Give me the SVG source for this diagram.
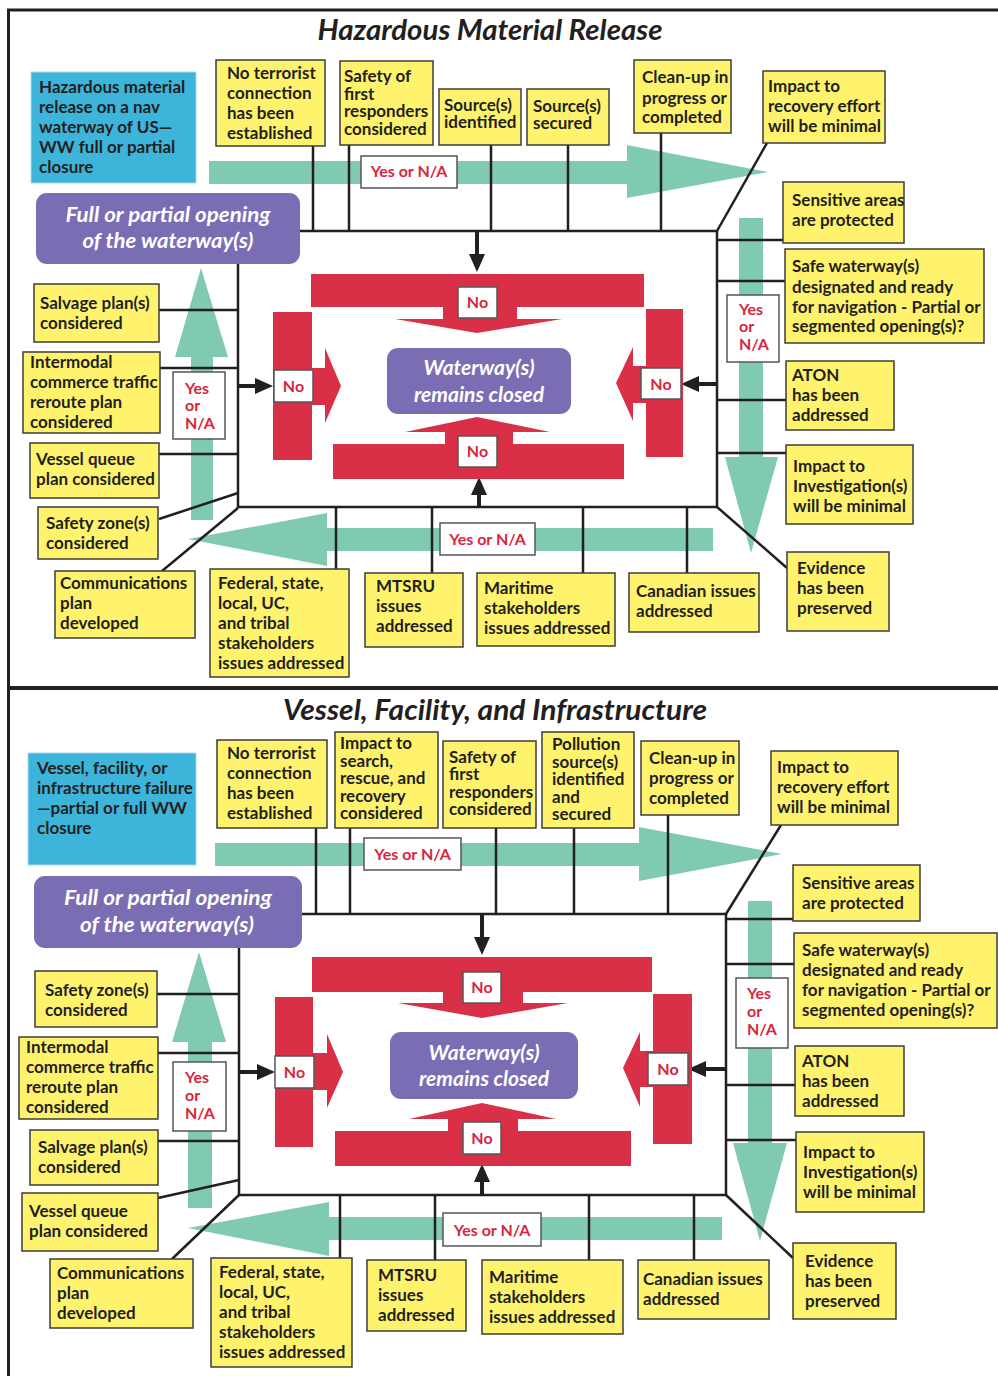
<svg xmlns="http://www.w3.org/2000/svg" width="998" height="1376" viewBox="0 0 998 1376">
<defs>
<style>
.bg{fill:#fff}
.frame{stroke:#231f20;stroke-width:3;fill:none}
.y{fill:#fff36e;stroke:#3d3d3d;stroke-width:1.5}
.bl{fill:#3db4d9;stroke:#a9dcef;stroke-width:1}
.pu{fill:#7b6db3}
.g{fill:#80cbb0}
.r{fill:#d93047}
.wb{fill:#fff;stroke:#555;stroke-width:1.5}
.ln{stroke:#231f20;stroke-width:2.5;fill:none}
.ar{stroke:#231f20;stroke-width:4;fill:none}
.t{font-family:Lato,"Liberation Sans",sans-serif;font-weight:700;font-size:17px;fill:#231f20}
.rt{font-family:Lato,"Liberation Sans",sans-serif;font-weight:700;font-size:16px;fill:#d7263d}
.pt{font-family:Lato,"Liberation Sans",sans-serif;font-weight:700;font-style:italic;font-size:21px;fill:#fff;text-anchor:middle}
.title{font-family:Lato,"Liberation Sans",sans-serif;font-weight:700;font-style:italic;font-size:28px;fill:#231f20;text-anchor:middle}
</style>
<marker id="ah" markerUnits="userSpaceOnUse" markerWidth="18" markerHeight="16" viewBox="0 0 18 16" refX="8" refY="8" orient="auto"><path d="M0,0 L18,8 L0,16 Z" fill="#231f20"/></marker>
</defs>
<rect class="bg" x="0" y="0" width="998" height="1376"/>

<!-- outer frame -->
<g id="frame">
<path class="frame" d="M8.5,1376 V10 H998"/>
<path d="M8.5,688 H998" stroke="#231f20" stroke-width="4"/>
</g>

<!-- ===== green flow arrows ===== -->
<g id="flow-arrows">
<polygon class="g" points="209,161 627,161 627,145 768,172 627,198 627,184 209,184"/>
<polygon class="g" points="739,218 763,218 763,457 778,457 751,553 725,457 739,457"/>
<polygon class="g" points="713,528 327,528 327,513 188,539 327,566 327,551 713,551"/>
<polygon class="g" points="191,520 191,357 175,357 201,268 228,357 213,357 213,520"/>
<polygon class="g" points="215,843 639,843 639,827 782,854 639,881 639,866 215,866"/>
<polygon class="g" points="748,901 772,901 772,1143 787,1143 760,1241 733,1143 748,1143"/>
<polygon class="g" points="722,1217 329,1217 329,1202 188,1228 329,1256 329,1240 722,1240"/>
<polygon class="g" points="188,1208 188,1042 172,1042 199,952 226,1042 212,1042 212,1208"/>
</g>

<!-- ===== connectors ===== -->
<g id="connectors">
<!-- top section -->
<path class="ln" d="M300,231 H717 V507 H238 V264"/>
<path class="ln" d="M767,143 L717,231"/>
<path class="ln" d="M717,507 L787,568"/>
<path class="ln" d="M159,519 L238,493"/>
<path class="ln" d="M162,571 L238,508"/>
<path class="ln" d="M313,146 V231 M349,145 V231 M491,145 V231 M568,145 V231 M661,133 V231"/>
<path class="ln" d="M717,240 H783 M717,281 H785 M717,400 H786 M717,453 H786"/>
<path class="ln" d="M159,310 H238 M160,368 H238 M159,454 H238"/>
<path class="ln" d="M336,507 V569 M432,507 V573 M583,507 V573 M687,507 V573"/>
<line class="ar" x1="477" y1="231" x2="477" y2="262" marker-end="url(#ah)"/>
<line class="ar" x1="238" y1="386" x2="263" y2="386" marker-end="url(#ah)"/>
<line class="ar" x1="717" y1="384" x2="691" y2="384" marker-end="url(#ah)"/>
<line class="ar" x1="479" y1="507" x2="479" y2="487" marker-end="url(#ah)"/>
<!-- bottom section -->
<path class="ln" d="M302,914 H726 V1195 H239 V948"/>
<path class="ln" d="M781,825 L726,914"/>
<path class="ln" d="M726,1195 L793,1258"/>
<path class="ln" d="M158,1198 L239,1180"/>
<path class="ln" d="M172,1259 L239,1195"/>
<path class="ln" d="M316,828 V914 M350,828 V914 M496,828 V914 M574,828 V914 M668,815 V914"/>
<path class="ln" d="M726,919 H793 M726,964 H794 M726,1085 H795 M726,1140 H796"/>
<path class="ln" d="M157,994 H239 M158,1053 H239 M158,1141 H239"/>
<path class="ln" d="M340,1195 V1258 M435,1195 V1260 M589,1195 V1260 M694,1195 V1260"/>
<line class="ar" x1="482" y1="914" x2="482" y2="945" marker-end="url(#ah)"/>
<line class="ar" x1="239" y1="1072" x2="265" y2="1072" marker-end="url(#ah)"/>
<line class="ar" x1="726" y1="1069" x2="698" y2="1069" marker-end="url(#ah)"/>
<line class="ar" x1="482" y1="1195" x2="482" y2="1174" marker-end="url(#ah)"/>
</g>

<!-- ===== Section 1: Hazardous Material Release ===== -->
<text id="title-hm" class="title" x="490" y="40" textLength="345" lengthAdjust="spacingAndGlyphs">Hazardous Material Release</text>

<g id="hm-start">
<rect class="bl" x="31" y="72" width="165" height="111"/>
<text class="t"><tspan x="39" y="93">Hazardous material</tspan><tspan x="39" y="113">release on a nav</tspan><tspan x="39" y="133">waterway of US—</tspan><tspan x="39" y="153">WW full or partial</tspan><tspan x="39" y="173">closure</tspan></text>
</g>
<g id="hm-opening">
<rect class="pu" x="36" y="193" width="264" height="71" rx="11"/>
<text class="pt"><tspan x="168" y="222" textLength="205" lengthAdjust="spacingAndGlyphs">Full or partial opening</tspan><tspan x="168" y="248" textLength="171" lengthAdjust="spacingAndGlyphs">of the waterway(s)</tspan></text>
</g>

<g id="hm-closed-red">
<path class="r" d="M311,274 H644 V307 H517 V319 H562 L477,333 L395,319 H443 V307 H311 Z"/>
<path class="r" d="M333,479 H624 V444 H513 V432 H550 L477,417 L405,432 H445 V444 H333 Z"/>
<path class="r" d="M273,312 H312 V368 H325 V348 L341,386 L325,423 V405 H312 V460 H273 Z"/>
<path class="r" d="M683,309 H646 V366 H633 V347 L616,383 L633,421 V403 H646 V457 H683 Z"/>
</g>
<g id="hm-closed">
<rect class="pu" x="387" y="348" width="184" height="66" rx="11"/>
<text class="pt"><tspan x="479" y="375">Waterway(s)</tspan><tspan x="479" y="402">remains closed</tspan></text>
</g>
<g id="hm-no-labels">
<rect class="wb" x="458" y="287" width="39" height="31"/><text class="rt" x="477.5" y="308" text-anchor="middle">No</text>
<rect class="wb" x="458" y="436" width="39" height="31"/><text class="rt" x="477.5" y="457" text-anchor="middle">No</text>
<rect class="wb" x="274" y="370" width="39" height="32"/><text class="rt" x="293.5" y="392" text-anchor="middle">No</text>
<rect class="wb" x="641" y="368" width="40" height="31"/><text class="rt" x="661" y="390" text-anchor="middle">No</text>
</g>

<g id="hm-no-terrorist"><rect class="y" x="216" y="60" width="109" height="86"/>
<text class="t"><tspan x="227" y="79">No terrorist</tspan><tspan x="227" y="99">connection</tspan><tspan x="227" y="119">has been</tspan><tspan x="227" y="139">established</tspan></text></g>
<g id="hm-safety-first"><rect class="y" x="340" y="61" width="93" height="84"/>
<text class="t"><tspan x="344" y="82">Safety of</tspan><tspan x="344" y="100">first</tspan><tspan x="344" y="117">responders</tspan><tspan x="344" y="135">considered</tspan></text></g>
<g id="hm-source-identified"><rect class="y" x="439" y="89" width="82" height="56"/>
<text class="t"><tspan x="444" y="111">Source(s)</tspan><tspan x="444" y="128">identified</tspan></text></g>
<g id="hm-source-secured"><rect class="y" x="527" y="89" width="82" height="56"/>
<text class="t"><tspan x="533" y="112">Source(s)</tspan><tspan x="533" y="129">secured</tspan></text></g>
<g id="hm-cleanup"><rect class="y" x="634" y="60" width="97" height="73"/>
<text class="t"><tspan x="642" y="83">Clean-up in</tspan><tspan x="642" y="104">progress or</tspan><tspan x="642" y="123">completed</tspan></text></g>
<g id="hm-impact-recovery"><rect class="y" x="763" y="71" width="122" height="72"/>
<text class="t"><tspan x="768" y="92">Impact to</tspan><tspan x="768" y="112">recovery effort</tspan><tspan x="768" y="132">will be minimal</tspan></text></g>

<g id="hm-sensitive"><rect class="y" x="783" y="182" width="121" height="61"/>
<text class="t"><tspan x="792" y="206">Sensitive areas</tspan><tspan x="792" y="226">are protected</tspan></text></g>
<g id="hm-safe-waterway"><rect class="y" x="785" y="249" width="199" height="94"/>
<text class="t"><tspan x="792" y="272">Safe waterway(s)</tspan><tspan x="792" y="293">designated and ready</tspan><tspan x="792" y="313">for navigation - Partial or</tspan><tspan x="792" y="332">segmented opening(s)?</tspan></text></g>
<g id="hm-aton"><rect class="y" x="786" y="361" width="108" height="69"/>
<text class="t"><tspan x="792" y="381">ATON</tspan><tspan x="792" y="401">has been</tspan><tspan x="792" y="421">addressed</tspan></text></g>
<g id="hm-impact-investigation"><rect class="y" x="786" y="445" width="127" height="79"/>
<text class="t"><tspan x="793" y="472">Impact to</tspan><tspan x="793" y="492">Investigation(s)</tspan><tspan x="793" y="512">will be minimal</tspan></text></g>
<g id="hm-evidence"><rect class="y" x="787" y="552" width="102" height="79"/>
<text class="t"><tspan x="797" y="574">Evidence</tspan><tspan x="797" y="594">has been</tspan><tspan x="797" y="614">preserved</tspan></text></g>

<g id="hm-salvage"><rect class="y" x="34" y="284" width="125" height="58"/>
<text class="t"><tspan x="40" y="309">Salvage plan(s)</tspan><tspan x="40" y="329">considered</tspan></text></g>
<g id="hm-intermodal"><rect class="y" x="23" y="352" width="137" height="81"/>
<text class="t"><tspan x="30" y="368">Intermodal</tspan><tspan x="30" y="388">commerce traffic</tspan><tspan x="30" y="408">reroute plan</tspan><tspan x="30" y="428">considered</tspan></text></g>
<g id="hm-vessel-queue"><rect class="y" x="30" y="443" width="129" height="55"/>
<text class="t"><tspan x="36" y="465">Vessel queue</tspan><tspan x="36" y="485">plan considered</tspan></text></g>
<g id="hm-safety-zone"><rect class="y" x="38" y="507" width="120" height="52"/>
<text class="t"><tspan x="46" y="529">Safety zone(s)</tspan><tspan x="46" y="549">considered</tspan></text></g>
<g id="hm-communications"><rect class="y" x="55" y="571" width="140" height="67"/>
<text class="t"><tspan x="60" y="589">Communications</tspan><tspan x="60" y="609">plan</tspan><tspan x="60" y="629">developed</tspan></text></g>

<g id="hm-federal"><rect class="y" x="210" y="569" width="139" height="108"/>
<text class="t"><tspan x="218" y="589">Federal, state,</tspan><tspan x="218" y="609">local, UC,</tspan><tspan x="218" y="629">and tribal</tspan><tspan x="218" y="649">stakeholders</tspan><tspan x="218" y="669">issues addressed</tspan></text></g>
<g id="hm-mtsru"><rect class="y" x="365" y="573" width="98" height="74"/>
<text class="t"><tspan x="376" y="592">MTSRU</tspan><tspan x="376" y="612">issues</tspan><tspan x="376" y="632">addressed</tspan></text></g>
<g id="hm-maritime"><rect class="y" x="477" y="573" width="138" height="73"/>
<text class="t"><tspan x="484" y="594">Maritime</tspan><tspan x="484" y="614">stakeholders</tspan><tspan x="484" y="634">issues addressed</tspan></text></g>
<g id="hm-canadian"><rect class="y" x="629" y="573" width="130" height="59"/>
<text class="t"><tspan x="636" y="597">Canadian issues</tspan><tspan x="636" y="617">addressed</tspan></text></g>

<g id="hm-yes-labels">
<rect class="wb" x="361" y="156" width="96" height="32"/><text class="rt" x="409" y="177" text-anchor="middle">Yes or N/A</text>
<rect class="wb" x="727" y="295" width="52" height="67"/><text class="rt"><tspan x="739" y="315">Yes</tspan><tspan x="739" y="332">or</tspan><tspan x="739" y="350">N/A</tspan></text>
<rect class="wb" x="173" y="372" width="52" height="67"/><text class="rt"><tspan x="185" y="394">Yes</tspan><tspan x="185" y="411">or</tspan><tspan x="185" y="429">N/A</tspan></text>
<rect class="wb" x="440" y="523" width="95" height="32"/><text class="rt" x="487.5" y="545" text-anchor="middle">Yes or N/A</text>
</g>

<!-- ===== Section 2: Vessel, Facility, and Infrastructure ===== -->
<text id="title-vfi" class="title" x="495" y="720" textLength="424" lengthAdjust="spacingAndGlyphs">Vessel, Facility, and Infrastructure</text>

<g id="vf-start">
<rect class="bl" x="28" y="753" width="168" height="112"/>
<text class="t"><tspan x="37" y="774">Vessel, facility, or</tspan><tspan x="37" y="794">infrastructure failure</tspan><tspan x="37" y="814">—partial or full WW</tspan><tspan x="37" y="834">closure</tspan></text>
</g>
<g id="vf-opening">
<rect class="pu" x="34" y="876" width="268" height="72" rx="11"/>
<text class="pt"><tspan x="168" y="905" textLength="208" lengthAdjust="spacingAndGlyphs">Full or partial opening</tspan><tspan x="167" y="932" textLength="174" lengthAdjust="spacingAndGlyphs">of the waterway(s)</tspan></text>
</g>

<g id="vf-closed-red">
<path class="r" d="M312,957 H652 V992 H523 V1003 H568 L482,1018 L398,1003 H443 V992 H312 Z"/>
<path class="r" d="M335,1166 H631 V1131 H518 V1119 H556 L482,1103 L409,1119 H448 V1131 H335 Z"/>
<path class="r" d="M275,997 H313 V1053 H327 V1034 L343,1072 L327,1108 V1090 H313 V1147 H275 Z"/>
<path class="r" d="M692,994 H653 V1051 H640 V1032 L623,1068 L640,1107 V1087 H653 V1144 H692 Z"/>
</g>
<g id="vf-closed">
<rect class="pu" x="390" y="1032" width="188" height="67" rx="11"/>
<text class="pt"><tspan x="484" y="1060">Waterway(s)</tspan><tspan x="484" y="1086">remains closed</tspan></text>
</g>
<g id="vf-no-labels">
<rect class="wb" x="463" y="972" width="38" height="31"/><text class="rt" x="482" y="993" text-anchor="middle">No</text>
<rect class="wb" x="463" y="1122" width="38" height="32"/><text class="rt" x="482" y="1144" text-anchor="middle">No</text>
<rect class="wb" x="275" y="1056" width="39" height="32"/><text class="rt" x="294.5" y="1078" text-anchor="middle">No</text>
<rect class="wb" x="648" y="1053" width="40" height="32"/><text class="rt" x="668" y="1075" text-anchor="middle">No</text>
</g>

<g id="vf-no-terrorist"><rect class="y" x="217" y="740" width="110" height="88"/>
<text class="t"><tspan x="227" y="759">No terrorist</tspan><tspan x="227" y="779">connection</tspan><tspan x="227" y="799">has been</tspan><tspan x="227" y="819">established</tspan></text></g>
<g id="vf-impact-sar"><rect class="y" x="335" y="732" width="103" height="96"/>
<text class="t"><tspan x="340" y="749">Impact to</tspan><tspan x="340" y="767">search,</tspan><tspan x="340" y="784">rescue, and</tspan><tspan x="340" y="802">recovery</tspan><tspan x="340" y="819">considered</tspan></text></g>
<g id="vf-safety-first"><rect class="y" x="443" y="741" width="93" height="87"/>
<text class="t"><tspan x="449" y="763">Safety of</tspan><tspan x="449" y="780">first</tspan><tspan x="449" y="798">responders</tspan><tspan x="449" y="815">considered</tspan></text></g>
<g id="vf-pollution"><rect class="y" x="542" y="732" width="92" height="96"/>
<text class="t"><tspan x="552" y="750">Pollution</tspan><tspan x="552" y="768">source(s)</tspan><tspan x="552" y="785">identified</tspan><tspan x="552" y="803">and</tspan><tspan x="552" y="820">secured</tspan></text></g>
<g id="vf-cleanup"><rect class="y" x="641" y="741" width="98" height="74"/>
<text class="t"><tspan x="649" y="764">Clean-up in</tspan><tspan x="649" y="784">progress or</tspan><tspan x="649" y="804">completed</tspan></text></g>
<g id="vf-impact-recovery"><rect class="y" x="771" y="751" width="127" height="74"/>
<text class="t"><tspan x="777" y="773">Impact to</tspan><tspan x="777" y="793">recovery effort</tspan><tspan x="777" y="813">will be minimal</tspan></text></g>

<g id="vf-sensitive"><rect class="y" x="793" y="865" width="127" height="56"/>
<text class="t"><tspan x="802" y="889">Sensitive areas</tspan><tspan x="802" y="909">are protected</tspan></text></g>
<g id="vf-safe-waterway"><rect class="y" x="794" y="933" width="203" height="95"/>
<text class="t"><tspan x="802" y="956">Safe waterway(s)</tspan><tspan x="802" y="976">designated and ready</tspan><tspan x="802" y="996">for navigation - Partial or</tspan><tspan x="802" y="1016">segmented opening(s)?</tspan></text></g>
<g id="vf-aton"><rect class="y" x="795" y="1046" width="109" height="70"/>
<text class="t"><tspan x="802" y="1067">ATON</tspan><tspan x="802" y="1087">has been</tspan><tspan x="802" y="1107">addressed</tspan></text></g>
<g id="vf-impact-investigation"><rect class="y" x="796" y="1132" width="128" height="80"/>
<text class="t"><tspan x="803" y="1158">Impact to</tspan><tspan x="803" y="1178">Investigation(s)</tspan><tspan x="803" y="1198">will be minimal</tspan></text></g>
<g id="vf-evidence"><rect class="y" x="793" y="1243" width="103" height="76"/>
<text class="t"><tspan x="805" y="1267">Evidence</tspan><tspan x="805" y="1287">has been</tspan><tspan x="805" y="1307">preserved</tspan></text></g>

<g id="vf-safety-zone"><rect class="y" x="35" y="971" width="122" height="56"/>
<text class="t"><tspan x="45" y="996">Safety zone(s)</tspan><tspan x="45" y="1016">considered</tspan></text></g>
<g id="vf-intermodal"><rect class="y" x="19" y="1037" width="139" height="82"/>
<text class="t"><tspan x="26" y="1053">Intermodal</tspan><tspan x="26" y="1073">commerce traffic</tspan><tspan x="26" y="1093">reroute plan</tspan><tspan x="26" y="1113">considered</tspan></text></g>
<g id="vf-salvage"><rect class="y" x="30" y="1130" width="128" height="55"/>
<text class="t"><tspan x="38" y="1153">Salvage plan(s)</tspan><tspan x="38" y="1173">considered</tspan></text></g>
<g id="vf-vessel-queue"><rect class="y" x="22" y="1193" width="136" height="58"/>
<text class="t"><tspan x="29" y="1217">Vessel queue</tspan><tspan x="29" y="1237">plan considered</tspan></text></g>
<g id="vf-communications"><rect class="y" x="50" y="1259" width="143" height="69"/>
<text class="t"><tspan x="57" y="1279">Communications</tspan><tspan x="57" y="1299">plan</tspan><tspan x="57" y="1319">developed</tspan></text></g>

<g id="vf-federal"><rect class="y" x="211" y="1258" width="141" height="109"/>
<text class="t"><tspan x="219" y="1278">Federal, state,</tspan><tspan x="219" y="1298">local, UC,</tspan><tspan x="219" y="1318">and tribal</tspan><tspan x="219" y="1338">stakeholders</tspan><tspan x="219" y="1358">issues addressed</tspan></text></g>
<g id="vf-mtsru"><rect class="y" x="367" y="1260" width="99" height="71"/>
<text class="t"><tspan x="378" y="1281">MTSRU</tspan><tspan x="378" y="1301">issues</tspan><tspan x="378" y="1321">addressed</tspan></text></g>
<g id="vf-maritime"><rect class="y" x="482" y="1260" width="141" height="74"/>
<text class="t"><tspan x="489" y="1283">Maritime</tspan><tspan x="489" y="1303">stakeholders</tspan><tspan x="489" y="1323">issues addressed</tspan></text></g>
<g id="vf-canadian"><rect class="y" x="638" y="1260" width="131" height="59"/>
<text class="t"><tspan x="643" y="1285">Canadian issues</tspan><tspan x="643" y="1305">addressed</tspan></text></g>

<g id="vf-yes-labels">
<rect class="wb" x="364" y="838" width="97" height="32"/><text class="rt" x="412.5" y="860" text-anchor="middle">Yes or N/A</text>
<rect class="wb" x="736" y="978" width="52" height="70"/><text class="rt"><tspan x="747" y="999">Yes</tspan><tspan x="747" y="1017">or</tspan><tspan x="747" y="1035">N/A</tspan></text>
<rect class="wb" x="173" y="1062" width="53" height="69"/><text class="rt"><tspan x="185" y="1083">Yes</tspan><tspan x="185" y="1101">or</tspan><tspan x="185" y="1119">N/A</tspan></text>
<rect class="wb" x="443" y="1213" width="98" height="33"/><text class="rt" x="492" y="1236" text-anchor="middle">Yes or N/A</text>
</g>
</svg>
